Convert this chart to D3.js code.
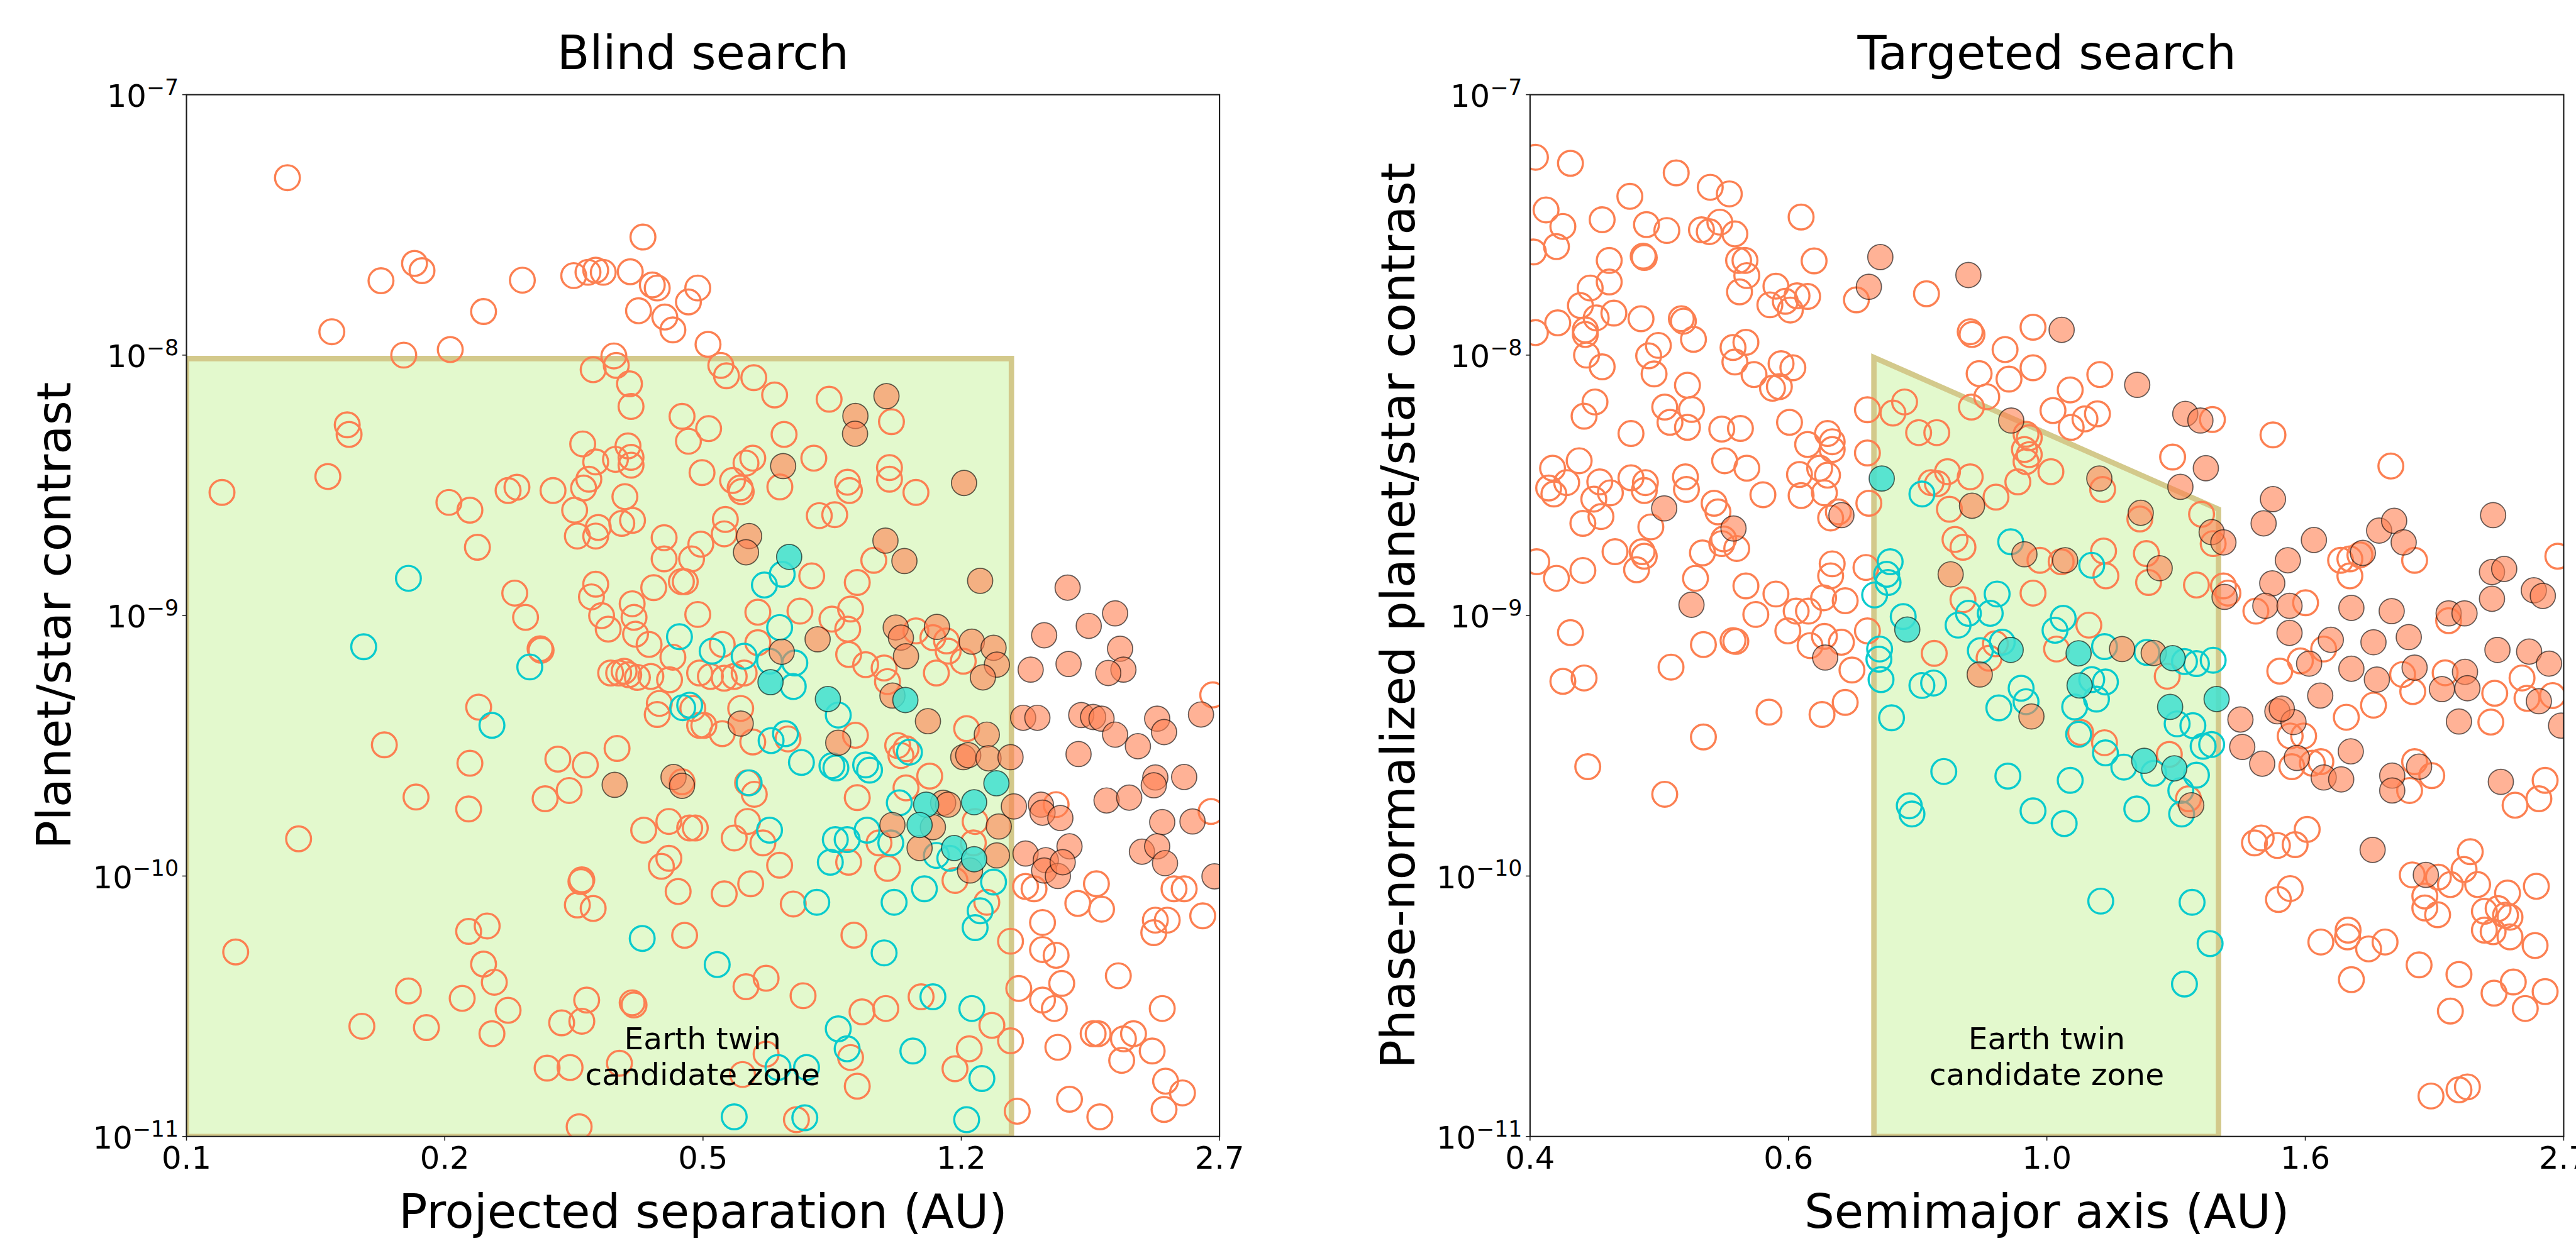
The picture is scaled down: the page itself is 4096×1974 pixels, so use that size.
<!DOCTYPE html>
<html>
<head>
<meta charset="utf-8">
<script src="https://cdn.jsdelivr.net/npm/d3@7"></script>
<style>
  body { margin: 0; background: #fff; }
  svg { display: block; }
  text { font-family: "DejaVu Sans", sans-serif; fill: #000; }
</style>
</head>
<body>
<div id="chart"></div>
<script>
// ---- data: [separation or semimajor axis (AU), planet/star contrast] ----

const blindOpen = [
  [0.138,4.8e-8],[0.207,2.25e-8],[0.212,2.11e-8],[0.186,1.93e-8],[0.159,1.23e-8],[0.2,1.0e-8],[0.232,1.05e-8],[0.258,1.47e-8],
  [0.292,1.94e-8],[0.344,2.02e-8],[0.36,2.08e-8],[0.369,2.12e-8],[0.167,5.4e-9],[0.168,4.96e-9],[0.112,2.97e-9],[0.157,3.42e-9],
  [0.354,4.56e-9],[0.369,3.89e-9],[0.361,3.34e-9],[0.355,3.09e-9],[0.279,3.02e-9],[0.287,3.11e-9],[0.322,3.02e-9],[0.231,2.72e-9],
  [0.247,2.54e-9],[0.345,2.54e-9],[0.372,2.18e-9],[0.369,2.02e-9],[0.348,2.02e-9],[0.366,8.79e-9],[0.253,1.83e-9],[0.369,1.32e-9],
  [0.364,1.18e-9],[0.285,1.22e-9],
  [0.429,2.84e-8],[0.378,2.08e-8],[0.412,2.09e-8],[0.442,1.86e-8],[0.449,1.81e-8],[0.511,1.81e-8],[0.496,1.6e-8],[0.423,1.48e-8],
  [0.46,1.4e-8],[0.472,1.25e-8],[0.528,1.1e-8],[0.391,9.93e-9],[0.394,9.13e-9],[0.55,9.13e-9],[0.56,8.33e-9],[0.611,8.19e-9],
  [0.411,7.76e-9],[0.653,7.03e-9],[0.777,6.77e-9],[0.413,6.35e-9],[0.948,5.55e-9],[0.486,5.82e-9],[0.529,5.22e-9],[0.496,4.67e-9],
  [0.673,4.96e-9],[0.409,4.48e-9],[0.393,3.98e-9],[0.413,4.05e-9],[0.413,3.78e-9],[0.74,4.02e-9],[0.942,3.7e-9],[0.942,3.34e-9],
  [0.518,3.54e-9],[0.609,4.02e-9],[0.596,3.85e-9],[0.571,3.3e-9],[0.585,3.09e-9],[0.587,2.99e-9],[0.664,3.12e-9],[0.824,3.25e-9],
  [0.829,3.02e-9],[1.025,2.97e-9],[0.405,2.86e-9],[0.753,2.42e-9],[0.791,2.44e-9],[0.415,2.32e-9],[0.401,2.26e-9],[0.558,2.34e-9],
  [0.556,2.06e-9],[0.516,1.88e-9],[0.459,1.99e-9],[0.459,1.65e-9],[0.501,1.65e-9],[0.896,1.63e-9],[0.735,1.42e-9],[0.85,1.34e-9],
  [0.444,1.28e-9],[0.491,1.35e-9],[0.485,1.35e-9],
  [0.295,9.84e-10],[0.376,9.99e-10],[0.384,8.87e-10],[0.4145,1.11e-9],[0.417,9.84e-10],[0.419,8.48e-10],[0.4375,7.75e-10],[0.472,6.92e-10],
  [0.511,1.01e-9],[0.387,6.02e-10],[0.397,6.02e-10],[0.404,6.11e-10],[0.41,5.93e-10],[0.4215,5.79e-10],[0.44,5.84e-10],[0.467,5.67e-10],
  [0.514,6.02e-10],[0.452,4.6e-10],[0.449,4.17e-10],[0.503,4.4e-10],[0.514,3.79e-10],[0.309,7.46e-10],[0.31,7.36e-10],[0.254,4.45e-10],
  [0.188,3.19e-10],[0.247,2.71e-10],[0.327,2.81e-10],[0.357,2.67e-10],[0.395,3.09e-10],[0.486,2.3e-10],[0.208,2.01e-10],[0.246,1.81e-10],
  [0.314,1.98e-10],[0.339,2.13e-10],[0.43,1.5e-10],[0.466,1.62e-10],[0.498,1.53e-10],[0.507,1.53e-10],[0.143,1.39e-10],[0.466,1.17e-10],
  [0.455,1.09e-10],[0.353,9.67e-11],[0.352,9.52e-11],[0.348,7.74e-11],[0.366,7.51e-11],[0.48,8.72e-11],[0.246,6.13e-11],[0.261,6.43e-11],
  [0.117,5.11e-11],[0.49,5.92e-11],[0.258,4.59e-11],[0.267,3.91e-11],[0.203,3.62e-11],[0.241,3.39e-11],[0.279,3.05e-11],[0.175,2.65e-11],
  [0.215,2.62e-11],[0.265,2.48e-11],[0.331,2.73e-11],[0.353,2.77e-11],[0.3585,3.34e-11],[0.4145,3.26e-11],[0.417,3.2e-11],[0.316,1.83e-11],
  [0.34,1.84e-11],[0.398,1.91e-11],[0.35,1.09e-11],
  [0.619,1.03e-9],[0.708,1.04e-9],[0.784,9.69e-10],[0.832,1.06e-9],[0.8245,8.87e-10],[0.5525,7.75e-10],[0.619,7.87e-10],[0.532,5.84e-10],
  [0.556,5.75e-10],[0.574,5.84e-10],[0.5925,6.02e-10],[0.586,4.4e-10],[0.521,3.79e-10],[0.5525,3.52e-10],[0.609,3.27e-10],[0.6815,3.36e-10],
  [0.845,3.47e-10],[0.827,7.09e-10],[0.873,6.48e-10],[0.936,5.58e-10],[0.926,6.29e-10],[1.025,8.73e-10],[1.082,8.23e-10],[1.13,7.99e-10],
  [1.136,7.3e-10],[1.094,6.02e-10],[1.192,6.68e-10],[1.205,3.68e-10],[0.967,3.17e-10],[0.993,3.08e-10],[0.977,2.9e-10],[1.071,2.42e-10],
  [0.993,2.18e-10],[0.85,2.0e-10],[0.599,2.28e-10],[0.612,2.06e-10],[0.599,1.62e-10],[0.574,1.4e-10],[0.629,1.34e-10],[0.6635,1.1e-10],
  [0.556,8.54e-11],[0.605,9.34e-11],[0.693,7.81e-11],[0.841,5.93e-11],[1.238,1.62e-10],[1.231,1.34e-10],[0.911,1.34e-10],[0.936,1.07e-10],
  [0.827,1.13e-10],[1.161,9.62e-11],[1.285,7.93e-11],[1.386,5.62e-11],[0.596,3.76e-11],[0.6355,4.05e-11],[0.715,3.47e-11],[0.863,3.01e-11],
  [0.931,3.1e-11],[1.042,3.44e-11],[1.306,2.67e-11],[1.386,2.33e-11],[1.215,2.17e-11],[1.161,1.82e-11],[0.85,1.56e-11],[0.832,2.01e-11],
  [0.6355,2.07e-11],[0.5895,1.73e-11],[0.7,1.16e-11],
  [2.642,4.96e-10],[2.628,1.77e-10],[1.603,1.88e-10],[1.823,9.34e-11],[1.718,7.85e-11],[1.853,7.46e-11],[1.454,9.12e-11],[1.494,8.93e-11],
  [1.535,6.63e-11],[1.535,5.22e-11],[1.603,4.96e-11],[1.632,3.87e-11],[1.955,4.14e-11],[1.423,3.7e-11],[1.535,3.34e-11],[1.594,3.1e-11],
  [2.249,3.1e-11],[2.335,8.93e-11],[2.412,8.93e-11],[2.559,7.03e-11],[2.2,6.77e-11],[2.285,6.77e-11],[2.189,6.06e-11],[1.833,2.48e-11],
  [1.804,2.48e-11],[1.987,2.37e-11],[2.052,2.48e-11],[1.976,1.96e-11],[2.178,2.13e-11],[1.612,2.2e-11],[1.673,1.39e-11],[1.843,1.19e-11],
  [2.273,1.63e-11],[2.399,1.47e-11],[2.262,1.27e-11],[1.416,1.25e-11]
];

const blindFilled = [
  [0.933,6.96e-9],[0.845,5.84e-9],[0.844,4.99e-9],[0.671,3.75e-9],[1.195,3.23e-9],[0.602,2.02e-9],[0.93,1.94e-9],[0.596,1.75e-9],
  [0.988,1.62e-9],[1.258,1.36e-9],[1.663,1.28e-9],
  [0.392,2.24e-10],[0.473,2.4e-10],[0.486,2.22e-10],
  [0.749,8.11e-10],[0.668,7.26e-10],[0.586,3.85e-10],[0.8,3.25e-10],[0.961,9.0e-10],[0.977,8.23e-10],[0.993,6.98e-10],[1.096,9.05e-10],
  [1.225,7.94e-10],[1.313,7.52e-10],[1.327,6.48e-10],[1.269,5.79e-10],[0.951,4.93e-10],[1.065,3.93e-10],[1.285,3.49e-10],[1.192,2.86e-10],
  [1.211,2.91e-10],[1.292,2.83e-10],[1.386,2.86e-10],[1.118,1.91e-10],[1.136,1.88e-10],[0.951,1.57e-10],[1.082,1.54e-10],[1.037,1.28e-10],
  [1.327,1.2e-10],[1.335,1.55e-10],[1.218,1.05e-10],[1.401,1.85e-10],
  [1.543,8.4e-10],[1.779,9.13e-10],[1.935,1.02e-9],[1.966,7.46e-10],[1.987,6.2e-10],[1.893,6.02e-10],[1.668,6.52e-10],[1.478,6.2e-10],
  [1.443,4.05e-10],[1.51,4.05e-10],[1.737,4.15e-10],[1.804,4.08e-10],[1.853,4.02e-10],[1.935,3.49e-10],[2.081,3.15e-10],[2.213,4.02e-10],
  [2.262,3.57e-10],[2.545,4.17e-10],[1.722,2.94e-10],[2.2,2.39e-10],[2.189,2.23e-10],[2.412,2.4e-10],[1.883,1.95e-10],[2.024,2.0e-10],
  [2.249,1.61e-10],[2.477,1.62e-10],[1.527,1.88e-10],[1.535,1.75e-10],[1.625,1.67e-10],[1.673,1.3e-10],[2.108,1.24e-10],[2.213,1.3e-10],
  [2.269,1.12e-10],[2.657,9.97e-11],[1.454,1.22e-10],[1.551,1.15e-10],[1.543,1.05e-10],[1.612,1.0e-10],[1.637,1.13e-10]
];

const blindOpenCyan = [
  [0.203,1.39e-9],[0.669,1.44e-9],[0.632,1.31e-9],
  [0.482,8.3e-10],[0.487,4.43e-10],[0.498,4.53e-10],[0.176,7.59e-10],[0.299,6.35e-10],[0.265,3.79e-10],[0.428,5.76e-11],
  [0.6635,9.0e-10],[0.535,7.3e-10],[0.5925,6.98e-10],[0.6425,6.68e-10],[0.6965,6.58e-10],[0.693,5.34e-10],[0.8,4.15e-10],[0.6457,3.31e-10],
  [0.676,3.52e-10],[0.7113,2.73e-10],[0.784,2.65e-10],[0.794,2.6e-10],[0.873,2.67e-10],[0.884,2.55e-10],[0.602,2.28e-10],[0.6425,1.5e-10],
  [0.7925,1.38e-10],[0.823,1.38e-10],[0.78,1.13e-10],[0.877,1.5e-10],[0.946,1.34e-10],[0.972,1.91e-10],[1.004,2.99e-10],[1.094,1.2e-10],
  [1.142,1.17e-10],[1.053,8.93e-11],[0.956,7.93e-11],[0.747,7.93e-11],[1.313,9.48e-11],[1.258,7.35e-11],[1.238,6.34e-11],[0.926,5.07e-11],
  [0.5437,4.57e-11],[1.082,3.44e-11],[1.225,3.1e-11],[0.8,2.59e-11],[0.823,2.17e-11],[1.015,2.13e-11],[1.265,1.67e-11],[0.66,1.84e-11],
  [0.723,1.84e-11],[0.574,1.19e-11],[0.719,1.18e-11],[1.205,1.16e-11]
];

const blindFilledCyan = [
  [0.684,1.68e-9],
  [0.6445,5.55e-10],[0.774,4.78e-10],[0.991,4.74e-10],[1.325,2.27e-10],[1.059,1.88e-10],[1.037,1.57e-10],[1.234,1.92e-10],[1.158,1.28e-10],
  [1.234,1.16e-10]
];

const targetedOpen = [
  [0.404,5.75e-8],[0.431,5.45e-8],[0.524,5.01e-8],[0.558,4.41e-8],[0.578,4.16e-8],[0.481,4.07e-8],[0.412,3.61e-8],[0.425,3.12e-8],
  [0.457,3.31e-8],[0.496,3.17e-8],[0.515,3.01e-8],[0.549,3.03e-8],[0.557,2.98e-8],[0.568,3.24e-8],[0.584,2.92e-8],[0.42,2.61e-8],
  [0.4025,2.49e-8],[0.66,3.39e-8],[0.493,2.4e-8],[0.494,2.37e-8],[0.463,2.31e-8],[0.588,2.31e-8],[0.595,2.31e-8],[0.597,2.02e-8],
  [0.676,2.3e-8],[0.589,1.75e-8],[0.63,1.84e-8],[0.623,1.56e-8],[0.641,1.61e-8],[0.647,1.49e-8],[0.655,1.69e-8],[0.668,1.68e-8],
  [0.731,1.63e-8],[0.832,1.72e-8],[0.447,1.81e-8],[0.463,1.91e-8],[0.439,1.55e-8],[0.452,1.39e-8],[0.467,1.45e-8],[0.443,1.25e-8],
  [0.443,1.2e-8],[0.421,1.33e-8],[0.404,1.22e-8],[0.491,1.38e-8],[0.529,1.38e-8],[0.531,1.35e-8],[0.541,1.15e-8],[0.507,1.09e-8],
  [0.498,9.94e-9],[0.503,8.47e-9],[0.444,1.0e-8],[0.457,9.02e-9],[0.582,1.07e-8],[0.596,1.12e-8],[0.584,9.41e-9],[0.605,8.42e-9],
  [0.636,9.27e-9],[0.65,8.94e-9],[0.626,7.46e-9],[0.634,7.57e-9],[0.535,7.66e-9],[0.539,6.19e-9],[0.513,6.32e-9],[0.518,5.52e-9],
  [0.535,5.28e-9],[0.482,5.0e-9],[0.451,6.61e-9],[0.442,5.83e-9],[0.57,5.2e-9],[0.59,5.23e-9],[0.646,5.52e-9],[0.668,4.54e-9],
  [0.693,5.0e-9],[0.699,4.65e-9],[0.699,4.34e-9],[0.573,3.93e-9],[0.597,3.68e-9],[0.658,3.48e-9],[0.683,3.68e-9],[0.693,3.46e-9],
  [0.66,2.89e-9],[0.689,2.96e-9],[0.707,2.5e-9],[0.697,2.37e-9],[0.615,2.91e-9],[0.562,2.7e-9],[0.566,2.5e-9],[0.417,3.68e-9],
  [0.438,3.93e-9],[0.414,3.09e-9],[0.418,2.93e-9],[0.428,3.24e-9],[0.455,3.26e-9],[0.45,2.8e-9],[0.464,2.96e-9],[0.482,3.38e-9],
  [0.495,3.24e-9],[0.494,3.02e-9],[0.533,3.41e-9],[0.534,3.05e-9],[0.441,2.26e-9],[0.456,2.4e-9],[0.5,2.19e-9],[0.468,1.76e-9],
  [0.492,1.76e-9],[0.494,1.69e-9],[0.487,1.5e-9],[0.405,1.61e-9],[0.42,1.39e-9],[0.441,1.49e-9],[0.55,1.74e-9],[0.57,1.89e-9],
  [0.572,1.97e-9],[0.586,1.81e-9],[0.543,1.39e-9],[0.596,1.3e-9],[0.63,1.21e-9],[0.654,1.04e-9],[0.669,1.04e-9],[0.688,1.17e-9],
  [0.699,1.58e-9],[0.697,1.42e-9],[0.716,1.14e-9],[0.744,1.53e-9],[0.607,1.01e-9],[0.746,4.21e-9],[0.748,2.7e-9],[0.746,6.17e-9],
  [0.782,5.99e-9],[0.799,6.61e-9],[0.902,1.23e-8],[0.905,1.2e-8],[1.013,1.28e-8],[0.962,1.05e-8],[1.013,8.94e-9],[0.917,8.49e-9],
  [0.969,8.09e-9],[0.93,6.92e-9],[0.904,6.32e-9],[0.82,5.04e-9],[0.848,5.04e-9],[1.0,4.97e-9],[1.006,4.82e-9],[0.997,4.34e-9],
  [1.006,4.15e-9],[1.0,3.9e-9],[0.985,3.26e-9],[0.865,3.57e-9],[0.902,3.41e-9],[0.839,3.24e-9],[0.849,3.21e-9],[0.868,2.56e-9],
  [0.946,2.85e-9],[0.877,1.96e-9],[0.89,1.83e-9],[1.013,1.22e-9],[0.89,1.15e-9],[1.026,1.63e-9],
  [1.146,8.42e-9],[1.085,7.35e-9],[1.051,6.13e-9],[1.115,5.69e-9],[1.141,5.95e-9],[1.087,5.28e-9],[1.047,3.57e-9],[1.411,5.66e-9],
  [1.578,4.94e-9],[1.311,4.06e-9],[1.962,3.75e-9],[1.152,3.05e-9],[1.234,2.35e-9],[1.383,2.45e-9],[1.413,1.89e-9],[1.154,1.77e-9],
  [1.159,1.42e-9],[1.249,1.73e-9],[1.254,1.34e-9],[1.37,1.31e-9],[1.44,1.3e-9],[1.452,1.22e-9],[1.067,1.61e-9],[1.788,1.63e-9],
  [1.819,1.65e-9],[1.853,1.71e-9],[1.819,1.42e-9],[2.05,1.63e-9],[2.671,1.69e-9],[1.676,1.12e-9],[1.529,1.04e-9],
  [0.431,8.6e-10],[0.425,5.59e-10],[0.442,5.76e-10],[0.519,6.34e-10],[0.551,7.74e-10],[0.582,8.02e-10],[0.585,7.96e-10],[0.644,8.73e-10],
  [0.671,7.67e-10],[0.689,8.32e-10],[0.711,7.9e-10],[0.725,6.18e-10],[0.746,8.73e-10],[0.622,4.26e-10],[0.686,4.17e-10],[0.716,4.64e-10],
  [0.551,3.42e-10],[0.445,2.63e-10],[0.513,2.06e-10],[0.844,7.16e-10],[0.934,6.86e-10],[0.945,7.79e-10],
  [1.123,9.19e-10],[1.058,7.44e-10],[1.298,5.85e-10],[1.106,3.56e-10],[1.156,3.25e-10],[1.303,2.93e-10],[1.35,1.98e-10],
  [2.183,9.56e-10],[1.733,7.44e-10],[1.598,6.12e-10],[1.66,6.7e-10],[1.807,4.07e-10],[1.9,4.53e-10],[2.005,5.94e-10],[2.043,5.11e-10],
  [2.169,6.03e-10],[2.377,5.03e-10],[2.5,5.76e-10],[2.523,4.81e-10],[2.645,4.93e-10],[2.36,3.9e-10],[1.629,3.45e-10],[1.67,3.45e-10],
  [1.634,2.63e-10],[1.697,2.71e-10],[1.724,2.75e-10],[2.031,2.13e-10],[2.116,2.43e-10],[2.05,2.75e-10],[2.609,2.33e-10],[2.579,1.98e-10],
  [2.468,1.87e-10],[1.525,1.34e-10],[1.544,1.4e-10],[1.591,1.31e-10],[1.644,1.32e-10],[1.681,1.51e-10],[2.041,1.01e-10],[2.142,9.9e-11],
  [2.19,9.27e-11],[2.246,1.06e-10],[2.272,1.24e-10],[2.303,9.27e-11],[2.434,8.6e-11],[2.567,9.13e-11],[2.392,7.5e-11],[2.425,7.07e-11],
  [1.594,8.13e-11],[1.629,8.95e-11],[2.089,8.38e-11],[2.089,7.54e-11],[2.139,7.1e-11],[2.332,7.32e-11],[2.445,6.95e-11],[2.332,6.2e-11],
  [2.37,6.11e-11],[2.445,5.84e-11],[2.561,5.41e-11],[1.724,5.58e-11],[1.813,6.2e-11],[1.811,5.84e-11],[1.883,5.25e-11],[1.941,5.58e-11],
  [2.067,4.56e-11],[1.824,4.0e-11],[2.225,4.19e-11],[2.46,3.92e-11],[2.374,3.55e-11],[2.609,3.6e-11],[2.515,3.1e-11],[2.19,3.03e-11],
  [2.113,1.43e-11],[2.225,1.51e-11],[2.26,1.55e-11]
];

const targetedFilled = [
  [0.764,2.38e-8],[0.748,1.83e-8],[0.899,2.03e-8],[0.5125,2.58e-9],[0.5825,2.16e-9],[0.711,2.43e-9],[0.539,1.1e-9],[0.973,5.61e-9],
  [0.905,2.64e-9],[0.997,1.72e-9],[0.87,1.44e-9],
  [1.068,1.25e-8],[1.228,7.69e-9],[1.342,5.95e-9],[1.38,5.61e-9],[1.394,3.68e-9],[1.33,3.12e-9],[1.578,2.8e-9],[1.551,2.26e-9],
  [1.702,1.95e-9],[1.622,1.63e-9],[1.576,1.33e-9],[1.556,1.09e-9],[1.627,1.09e-9],[1.824,1.07e-9],[1.965,1.04e-9],[1.92,2.12e-9],
  [1.974,2.31e-9],[2.009,1.91e-9],[1.863,1.74e-9],[2.37,2.43e-9],[2.365,1.47e-9],[2.419,1.51e-9],[2.365,1.16e-9],[2.555,1.25e-9],
  [2.598,1.19e-9],[2.183,1.02e-9],[2.248,1.02e-9],
  [1.145,3.36e-9],[1.236,2.48e-9],[1.409,2.09e-9],[1.44,1.91e-9],[1.075,1.63e-9],[1.28,1.52e-9],[1.443,1.18e-9],
  [0.69,6.9e-10],[0.918,5.94e-10],[1.01,4.1e-10],
  [1.194,7.44e-10],[1.266,7.18e-10],[1.357,1.87e-10],
  [1.627,8.58e-10],[1.756,8.07e-10],[1.9,7.9e-10],[2.028,8.27e-10],[2.389,7.38e-10],[2.533,7.27e-10],[2.628,6.54e-10],[1.687,6.54e-10],
  [1.824,6.25e-10],[1.912,5.68e-10],[2.05,6.31e-10],[2.25,6.08e-10],[2.156,5.22e-10],[2.26,5.26e-10],[2.579,4.69e-10],[1.722,4.93e-10],
  [2.225,3.92e-10],[1.486,3.99e-10],[1.591,4.29e-10],[1.639,3.9e-10],[1.491,3.13e-10],[1.547,2.7e-10],[1.649,2.84e-10],[1.733,2.39e-10],
  [1.79,2.35e-10],[1.822,3.01e-10],[1.967,2.43e-10],[1.967,2.13e-10],[2.067,2.63e-10],[2.404,2.3e-10],[1.897,1.26e-10],[2.093,1.01e-10],
  [2.687,3.78e-10],[1.604,4.39e-10]
];

const targetedOpenCyan = [
  [0.825,2.93e-9],[0.972,1.92e-9],[0.778,1.61e-9],[0.773,1.44e-9],[0.775,1.34e-9],[0.756,1.2e-9],[0.948,1.21e-9],[0.899,1.02e-9],
  [0.936,1.02e-9],[1.129,1.56e-9],
  [0.797,9.91e-10],[0.882,9.19e-10],[0.763,7.44e-10],[0.762,6.8e-10],[0.765,5.68e-10],[0.78,4.05e-10],[0.825,5.39e-10],[0.843,5.51e-10],
  [0.919,7.33e-10],[0.957,7.9e-10],[0.991,5.26e-10],[1.0,4.67e-10],[0.951,4.42e-10],[0.859,2.52e-10],[0.967,2.42e-10],[0.806,1.86e-10],
  [0.81,1.73e-10],[1.013,1.78e-10],
  [1.071,9.76e-10],[1.055,8.78e-10],[1.156,7.6e-10],[1.129,5.68e-10],[1.158,5.56e-10],[1.139,4.78e-10],[1.094,4.46e-10],[1.102,3.5e-10],
  [1.158,2.97e-10],[1.198,2.62e-10],[1.25,7.22e-10],[1.34,6.66e-10],[1.37,6.54e-10],[1.413,6.74e-10],[1.322,3.84e-10],[1.361,3.78e-10],
  [1.387,3.15e-10],[1.409,3.2e-10],[1.37,2.44e-10],[1.266,2.48e-10],[1.331,2.13e-10],[1.333,1.73e-10],[1.085,2.33e-10],[1.073,1.59e-10],
  [1.227,1.81e-10],[1.148,8.01e-11],[1.359,7.93e-11],[1.405,5.5e-11],[1.34,3.85e-11]
];

const targetedFilledCyan = [
  [0.766,3.36e-9],[0.803,8.84e-10],[0.972,7.38e-10],
  [1.102,7.16e-10],[1.104,5.39e-10],[1.305,4.46e-10],[1.311,6.86e-10],[1.244,2.77e-10],[1.315,2.59e-10],[1.422,4.78e-10]
];

// Earth-twin candidate zone outlines
const blindZone = [[0.1,1e-11],[0.1,9.7e-9],[1.39,9.7e-9],[1.39,1e-11]];
const targetedZone = [[0.755,1e-11],[0.755,9.8e-9],[1.427,2.56e-9],[1.427,1e-11]];

// axes
const yExponents = [-11, -10, -9, -8, -7];
const blindTickLabels = ["0.1", "0.2", "0.5", "1.2", "2.7"];
const targetedTickLabels = ["0.4", "0.6", "1.0", "1.6", "2.7"];

// ---- layout (drawn in reference pixels, scaled into the window) ----
const W = 4288, H = 2067;
const plotTop = 157.7, plotBottom = 1892.9;

const svg = d3.select("#chart")
  .append("svg")
  .attr("width", 4096)
  .attr("height", 1974)
  .attr("viewBox", [0, 0, W, H]);

const y = d3.scaleLog().domain([1e-11, 1e-7]).range([plotBottom, plotTop]);

const panels = [
  { id: "blind", left: 310, right: 2030, domain: [0.1, 2.7], ticks: blindTickLabels,
    title: "Blind search", xlabel: "Projected separation (AU)", ylabel: "Planet/star contrast",
    zone: blindZone, note: [0.519, 2.16e-11],
    open: blindOpen, filled: blindFilled, openCyan: blindOpenCyan, filledCyan: blindFilledCyan },
  { id: "targeted", left: 2547, right: 4268, domain: [0.4, 2.7], ticks: targetedTickLabels,
    title: "Targeted search", xlabel: "Semimajor axis (AU)", ylabel: "Phase-normalized planet/star contrast",
    zone: targetedZone, note: [1.039, 2.16e-11],
    open: targetedOpen, filled: targetedFilled, openCyan: targetedOpenCyan, filledCyan: targetedFilledCyan }
];

panels.forEach(p => {
  const x = d3.scaleLog().domain(p.domain).range([p.left, p.right]);
  const g = svg.append("g");
  const midX = (p.left + p.right) / 2;

  g.append("clipPath").attr("id", "clip-" + p.id)
    .append("rect")
      .attr("x", p.left).attr("y", plotTop)
      .attr("width", p.right - p.left).attr("height", plotBottom - plotTop);

  const plot = g.append("g").attr("clip-path", "url(#clip-" + p.id + ")");

  // candidate zone
  plot.append("path")
    .attr("d", d3.line().x(d => x(d[0])).y(d => y(d[1]))(p.zone) + "Z")
    .attr("fill", "#e3f9cd")
    .attr("stroke", "#d3c98b")
    .attr("stroke-width", 9)
    .attr("stroke-linejoin", "miter");

  const r = 20.7;

  plot.append("g").selectAll("circle").data(p.open).join("circle")
    .attr("cx", d => x(d[0])).attr("cy", d => y(d[1])).attr("r", r)
    .attr("fill", "none").attr("stroke", "#fc8052").attr("stroke-width", 3.6);

  plot.append("g").selectAll("circle").data(p.openCyan).join("circle")
    .attr("cx", d => x(d[0])).attr("cy", d => y(d[1])).attr("r", r)
    .attr("fill", "none").attr("stroke", "#0acbcd").attr("stroke-width", 3.6);

  plot.append("g").selectAll("circle").data(p.filled).join("circle")
    .attr("cx", d => x(d[0])).attr("cy", d => y(d[1])).attr("r", 21)
    .attr("fill", "#ff7f50").attr("fill-opacity", 0.6)
    .attr("stroke", "#000").attr("stroke-opacity", 0.6).attr("stroke-width", 1.8);

  plot.append("g").selectAll("circle").data(p.filledCyan).join("circle")
    .attr("cx", d => x(d[0])).attr("cy", d => y(d[1])).attr("r", 21)
    .attr("fill", "#40e0d0").attr("fill-opacity", 0.85)
    .attr("stroke", "#000").attr("stroke-opacity", 0.6).attr("stroke-width", 1.8);

  // zone label
  const note = g.append("text")
    .attr("x", x(p.note[0])).attr("y", y(p.note[1]))
    .attr("text-anchor", "middle").attr("font-size", 51);
  note.append("tspan").attr("x", x(p.note[0])).text("Earth twin");
  note.append("tspan").attr("x", x(p.note[0])).attr("dy", 60).text("candidate zone");

  // frame
  g.append("rect")
    .attr("x", p.left).attr("y", plotTop)
    .attr("width", p.right - p.left).attr("height", plotBottom - plotTop)
    .attr("fill", "none").attr("stroke", "#1a1a1a").attr("stroke-width", 2.2);

  // x ticks: evenly spaced in log between the ends of the axis
  const xt = p.ticks.map((lab, i) => ({
    v: p.domain[0] * Math.pow(p.domain[1] / p.domain[0], i / (p.ticks.length - 1)), lab }));
  g.append("g").selectAll("line").data(xt).join("line")
    .attr("x1", d => x(d.v)).attr("x2", d => x(d.v))
    .attr("y1", plotBottom).attr("y2", plotBottom + 7)
    .attr("stroke", "#1a1a1a").attr("stroke-width", 1.6);
  g.append("g").selectAll("text").data(xt).join("text")
    .attr("x", d => x(d.v)).attr("y", 1947)
    .attr("text-anchor", "middle").attr("font-size", 52)
    .text(d => d.lab);

  // y ticks
  g.append("g").selectAll("line").data(yExponents).join("line")
    .attr("x1", p.left - 7).attr("x2", p.left)
    .attr("y1", e => y(Math.pow(10, e))).attr("y2", e => y(Math.pow(10, e)))
    .attr("stroke", "#1a1a1a").attr("stroke-width", 1.6);
  const yl = g.append("g").selectAll("text").data(yExponents).join("text")
    .attr("x", p.left - 13).attr("y", e => y(Math.pow(10, e)) + 20)
    .attr("text-anchor", "end").attr("font-size", 52);
  yl.append("tspan").text("10");
  yl.append("tspan").attr("font-size", 36.4).attr("dy", -20).text(e => "\u2212" + Math.abs(e));

  // titles and axis labels
  g.append("text").attr("x", midX).attr("y", 115)
    .attr("text-anchor", "middle").attr("font-size", 79).text(p.title);
  g.append("text").attr("x", midX).attr("y", 2045)
    .attr("text-anchor", "middle").attr("font-size", 79).text(p.xlabel);
  const ly = (plotTop + plotBottom) / 2, lx = p.left - 193;
  g.append("text").attr("x", lx).attr("y", ly)
    .attr("transform", "rotate(-90," + lx + "," + ly + ")")
    .attr("text-anchor", "middle").attr("font-size", 79).text(p.ylabel);
});
</script>
</body>
</html>
